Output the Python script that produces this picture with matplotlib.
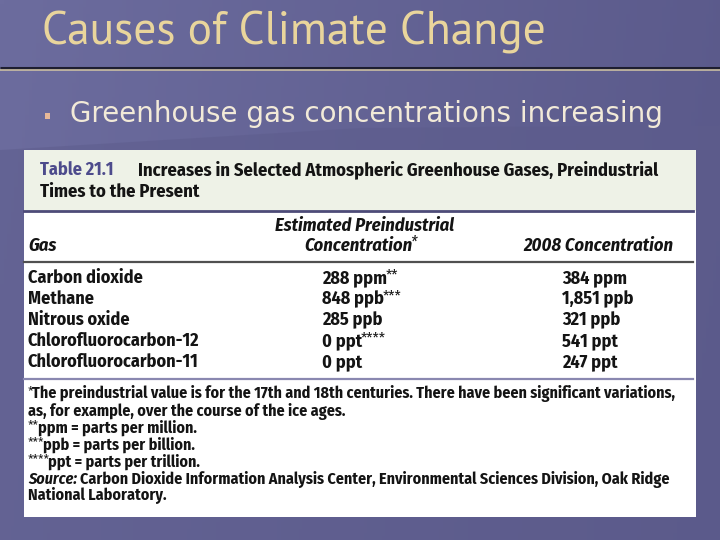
import numpy as np
import matplotlib
matplotlib.use("Agg")
import matplotlib.pyplot as plt
from matplotlib.patches import Rectangle, Polygon

# ---- data ----
slide_title = "Causes of Climate Change"
bullet_text = "Greenhouse gas concentrations increasing"
table_label = "Table 21.1"
table_title = ["Increases in Selected Atmospheric Greenhouse Gases, Preindustrial",
               "Times to the Present"]
col_gas = "Gas"
col_pre = ["Estimated Preindustrial", "Concentration*"]
col_2008 = "2008 Concentration"
gases = ["Carbon dioxide", "Methane", "Nitrous oxide",
         "Chlorofluorocarbon-12", "Chlorofluorocarbon-11"]
preindustrial = ["288 ppm**", "848 ppb***", "285 ppb", "0 ppt****", "0 ppt"]
conc_2008 = ["384 ppm", "1,851 ppb", "321 ppb", "541 ppt", "247 ppt"]
footnotes = ["*The preindustrial value is for the 17th and 18th centuries. There have been significant variations,",
             "as, for example, over the course of the ice ages.",
             "**ppm = parts per million.",
             "***ppb = parts per billion.",
             "****ppt = parts per trillion."]
source_label = "Source:"
source_text = ["Carbon Dioxide Information Analysis Center, Environmental Sciences Division, Oak Ridge",
               "National Laboratory."]

W, H = 720, 540
fig = plt.figure(figsize=(7.2, 5.4), dpi=100)
ax = fig.add_axes([0, 0, 1, 1])
ax.set_xlim(0, W)
ax.set_ylim(H, 0)
ax.axis("off")
fig.canvas.draw()
R = fig.canvas.get_renderer()
inv = ax.transData.inverted()


def width_px(t):
    bb = t.get_window_extent(renderer=R)
    return bb.width


def fit_size(s, target, **kw):
    t = ax.text(0, 0, s, fontsize=10, **kw)
    w = width_px(t)
    t.remove()
    return 10 * target / w


def right_x(t):
    bb = t.get_window_extent(renderer=R)
    return inv.transform((bb.x1, bb.y0))[0]


TXT = "#141414"
body = dict(family=["Fira Sans Condensed", "DejaVu Sans"], fontweight="bold", color=TXT)
ital = dict(family=["Fira Sans Condensed", "DejaVu Sans"], fontweight="bold", style="italic", color=TXT)


def draw_stars(x, y, s, size, props):
    """Draw text with leading/trailing asterisks rendered as small raised marks."""
    lead = len(s) - len(s.lstrip("*"))
    trail = len(s) - len(s.rstrip("*"))
    core = s.strip("*")
    cx = x
    sprops = dict(props)
    sprops["fontweight"] = "normal"
    if lead:
        st = ax.text(cx, y - 2.5, "*" * lead, fontsize=size * 0.85, va="center", ha="left",
                     zorder=3, **sprops)
        cx = right_x(st) - 1.5
    t = ax.text(cx, y, core, fontsize=size, va="center", ha="left", zorder=3, **props)
    if trail:
        ax.text(right_x(t) - 1.5, y - 2.5, "*" * trail, fontsize=size * 0.85, va="center",
                ha="left", zorder=3, **sprops)
    return t


# background gradient
gx = np.linspace(0, 1, 200)
gy = np.linspace(0, 1, 150)
GX, GY = np.meshgrid(gx, gy)
c_left = np.array([0x6c, 0x6c, 0x9e]) / 255
c_right = np.array([0x5a, 0x59, 0x8a]) / 255
t = np.clip(GX * 0.9 + GY * 0.1, 0, 1)[..., None]
img = c_left * (1 - t) + c_right * t
ax.imshow(img, extent=[0, W, H, 0], aspect="auto", zorder=0)
ax.add_patch(Polygon([[0, 150], [360, 128], [720, 125], [720, 540], [0, 540]],
                     closed=True, fc="#5d5c8c", ec="none", alpha=0.5, zorder=0.5))

# title
tprops = dict(family=["PT Sans", "DejaVu Sans"], color="#e9d59c")
ts = fit_size(slide_title, 506, **tprops)
ax.text(42, 32, slide_title, fontsize=ts, va="center", ha="left", zorder=2, **tprops)
ax.plot([0, 720], [67.5, 67.5], color="#1e1e30", lw=2.2, zorder=2, solid_capstyle="butt")
ax.plot([0, 720], [69.6, 69.6], color="#cbbfa4", lw=1.2, zorder=2, solid_capstyle="butt")

# bullet
ax.add_patch(Rectangle((45, 113), 5, 6, fc="#e8b898", ec="none", zorder=2))
bprops = dict(family=["DejaVu Sans"], color="#f2ead8")
bs = fit_size(bullet_text, 593, **bprops)
ax.text(70, 114, bullet_text, fontsize=bs, va="center", ha="left", zorder=2, **bprops)

# table panel
ax.add_patch(Rectangle((24, 150), 672, 367, fc="white", ec="none", zorder=1))
ax.add_patch(Rectangle((24, 150), 672, 61, fc="#eef2e7", ec="none", zorder=1.1))
ax.plot([24, 693], [211, 211], color="#4d4b78", lw=2.0, zorder=2)
ax.plot([24, 693], [262, 262], color="#505050", lw=1.6, zorder=2)
ax.plot([24, 693], [379, 379], color="#8a88b0", lw=1.6, zorder=2)

fs = fit_size(gases[0], 115, **body)
lab_props = dict(body)
lab_props["color"] = "#4d4b8c"
ax.text(40, 170, table_label, fontsize=fs, va="center", ha="left", zorder=3, **lab_props)
fs_t = fit_size(table_title[0], 520, **body)
ax.text(138, 170, table_title[0], fontsize=fs_t, va="center", ha="left", zorder=3, **body)
ax.text(40, 192, table_title[1], fontsize=fs_t, va="center", ha="left", zorder=3, **body)

# column headers
fs_h = fit_size(col_2008, 150, **ital)
ax.text(28, 246, col_gas, fontsize=fs_h, va="center", ha="left", zorder=3, **ital)
ax.text(365, 226, col_pre[0], fontsize=fs_h, va="center", ha="center", zorder=3, **ital)
draw_stars(304, 246, col_pre[1], fs_h, ital)
ax.text(673, 246, col_2008, fontsize=fs_h, va="center", ha="right", zorder=3, **ital)

row_y0, row_dy = 278, 21
for i, (g, p, c) in enumerate(zip(gases, preindustrial, conc_2008)):
    y = row_y0 + i * row_dy
    ax.text(28, y, g, fontsize=fs, va="center", ha="left", zorder=3, **body)
    draw_stars(322, y, p, fs, body)
    ax.text(562, y, c, fontsize=fs, va="center", ha="left", zorder=3, **body)

fs2 = fit_size(footnotes[0], 650, **body)
fy0, fdy = 394, 17
for i, line in enumerate(footnotes):
    draw_stars(28, fy0 + i * fdy, line, fs2, body)
ys = fy0 + len(footnotes) * fdy
st = ax.text(28, ys, source_label, fontsize=fs2, va="center", ha="left", zorder=3, **ital)
ax.text(right_x(st) + 3, ys, source_text[0], fontsize=fs2, va="center", ha="left", zorder=3, **body)
ax.text(28, ys + fdy, source_text[1], fontsize=fs2, va="center", ha="left", zorder=3, **body)

fig.savefig("out.png", dpi=100)
